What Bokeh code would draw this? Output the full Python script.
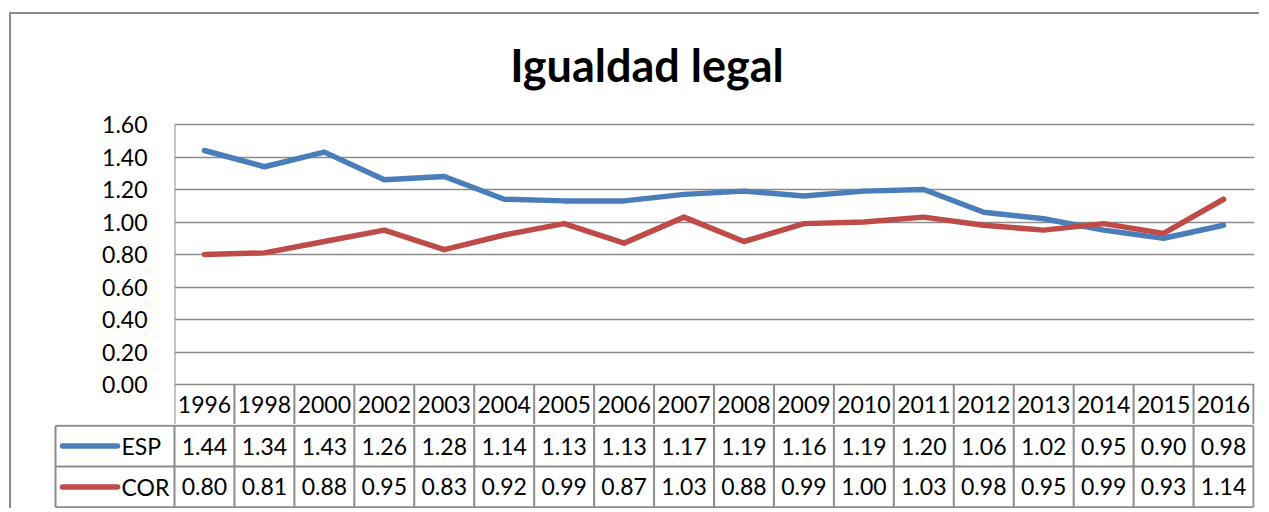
from bokeh.plotting import figure
from bokeh.layouts import column
from bokeh.models import Range1d, FixedTicker, PrintfTickFormatter
from bokeh.core.properties import value
from bokeh.embed import file_html
from bokeh.resources import INLINE

# ---- data ----
title = "Igualdad legal"
years = ["1996", "1998", "2000", "2002", "2003", "2004", "2005", "2006", "2007",
         "2008", "2009", "2010", "2011", "2012", "2013", "2014", "2015", "2016"]
esp = [1.44, 1.34, 1.43, 1.26, 1.28, 1.14, 1.13, 1.13, 1.17,
       1.19, 1.16, 1.19, 1.20, 1.06, 1.02, 0.95, 0.90, 0.98]
cor = [0.80, 0.81, 0.88, 0.95, 0.83, 0.92, 0.99, 0.87, 1.03,
       0.88, 0.99, 1.00, 1.03, 0.98, 0.95, 0.99, 0.93, 1.14]
series_names = ["ESP", "COR"]
y_ticks = [0.0, 0.2, 0.4, 0.6, 0.8, 1.0, 1.2, 1.4, 1.6]

# ---- styles / layout constants ----
BLUE = "#4A7EBB"
RED = "#BE4B48"
GRID = "#8C8C8C"
FONT = "Lato"
FS = "23px"
W = 1248                      # figure width (content starts at x=11, y=14)
n = len(years)
y_max = y_ticks[-1]
xc = [i + 0.5 for i in range(n)]
col_w = 1079 / n              # pixel width of one category column
px_per_unit = 260 / y_max     # vertical pixels per value unit
hdr = 40 / px_per_unit        # header row height in value units
top_pad = 110 / px_per_unit   # title area above the plot, in value units
x_end = n + 1 / col_w

# ---- chart (title area + plot + header row of the data table) ----
p = figure(width=W, height=410, x_range=Range1d(0, x_end),
           y_range=Range1d(-hdr, y_max + top_pad),
           output_backend="svg", toolbar_location=None,
           x_axis_location=None, frame_align=False,
           min_border_left=163, min_border_right=5, min_border_top=0, min_border_bottom=0)
p.outline_line_color = None
p.background_fill_color = "white"
p.border_fill_color = "white"
p.xgrid.visible = False
p.ygrid.ticker = FixedTicker(ticks=y_ticks)
p.ygrid.grid_line_color = GRID
p.ygrid.grid_line_width = 1.6
p.yaxis.ticker = FixedTicker(ticks=y_ticks)
p.yaxis.formatter = PrintfTickFormatter(format="%.2f")
p.yaxis.axis_line_color = None
p.yaxis.major_tick_line_color = None
p.yaxis.minor_tick_line_color = None
p.yaxis.major_label_text_font = FONT
p.yaxis.major_label_text_font_size = FS
p.yaxis.major_label_text_color = "black"
p.yaxis.major_label_standoff = 21

# chart title
p.text(x=[(646.5 - 174) / col_w], y=[(384 - 64) / px_per_unit], text=[title],
       text_align="center", text_baseline="alphabetic", text_font=value(FONT),
       text_font_size="45px", text_font_style="bold", text_color="black")

p.line(xc, esp, line_color=BLUE, line_width=5.5, line_join="round", line_cap="round")
p.line(xc, cor, line_color=RED, line_width=5.5, line_join="round", line_cap="round")

# value axis line and header-row vertical rules
vx = list(range(n + 1))
p.segment(x0=[0], y0=[0], x1=[0], y1=[y_max], line_color=GRID, line_width=2)
p.segment(x0=vx, y0=[-hdr] * len(vx), x1=vx, y1=[0] * len(vx), line_color=GRID, line_width=2)
tf = dict(text_align="center", text_baseline="middle", text_font=value(FONT),
          text_font_size=FS, text_color="black")
p.text(x=xc, y=[-hdr / 2] * n, text=years, **tf)

# ---- data table body ----
f_left = 53
x_start = (f_left - 174) / col_w
leg_left = -119 / col_w
t = figure(width=W, height=84, x_range=Range1d(x_start, x_end), y_range=Range1d(-0.03, 2.03),
           output_backend="svg", toolbar_location=None,
           x_axis_location=None, y_axis_location=None, frame_align=False,
           min_border_left=f_left - 11, min_border_right=5, min_border_top=0, min_border_bottom=0)
t.outline_line_color = None
t.grid.visible = False
t.border_fill_color = "white"

t.segment(x0=[leg_left] * 3, y0=[2, 1, 0], x1=[n] * 3, y1=[2, 1, 0],
          line_color=GRID, line_width=2)
t.segment(x0=vx + [leg_left], y0=[0] * (len(vx) + 1), x1=vx + [leg_left], y1=[2] * (len(vx) + 1),
          line_color=GRID, line_width=2)

t.text(x=xc, y=[1.5] * n, text=["%.2f" % v for v in esp], **tf)
t.text(x=xc, y=[0.5] * n, text=["%.2f" % v for v in cor], **tf)

# legend keys
lx0 = (62 - 174) / col_w
lx1 = (117 - 174) / col_w
ltx = (121 - 174) / col_w
t.segment(x0=[lx0, lx0], y0=[1.5, 0.5], x1=[lx1, lx1], y1=[1.5, 0.5],
          line_color=[BLUE, RED], line_width=5.5, line_cap="round")
t.text(x=[ltx, ltx], y=[1.5, 0.5], text=series_names, text_align="left",
       text_baseline="middle", text_font=value(FONT), text_font_size=FS, text_color="black")

layout = column(p, t, margin=(12, 0, 0, 9),
                styles={"border-left": "2px solid #8C8C8C", "border-top": "2px solid #8C8C8C",
                        "background": "white"})

open("out.html", "w").write(file_html(layout, INLINE))
